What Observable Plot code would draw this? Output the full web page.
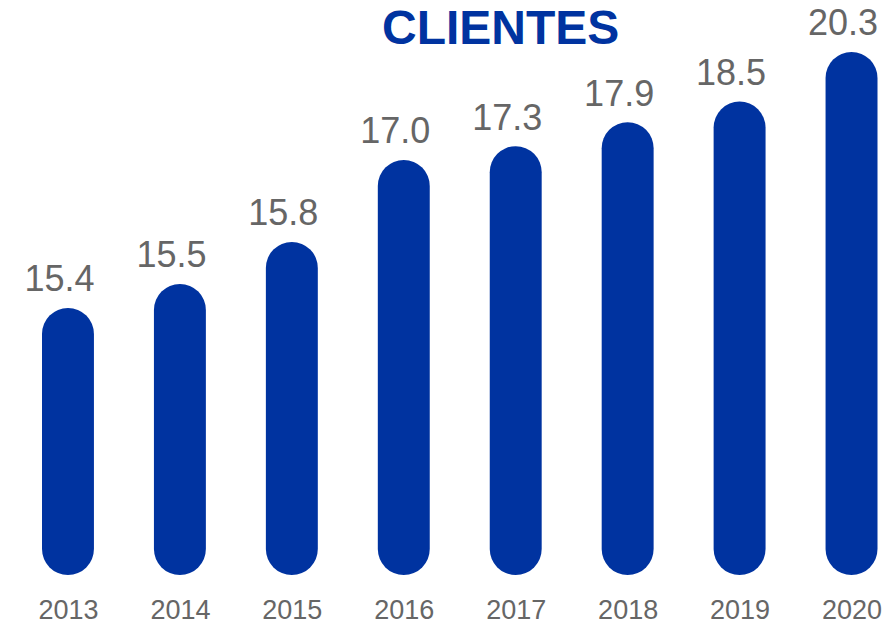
<!DOCTYPE html>
<html>
<head>
<meta charset="utf-8">
<script src="https://cdn.jsdelivr.net/npm/d3@7"></script>
<script src="https://cdn.jsdelivr.net/npm/@observablehq/plot@0.6"></script>
<style>
  html, body { margin: 0; padding: 0; background: #fff; }
  #wrap { position: relative; width: 887px; height: 626px; font-family: "Liberation Sans", Arial, sans-serif; }
  #title { position: absolute; left: 382px; top: 4px; font-size: 48px; line-height: 47px; font-weight: bold; color: #0033A0; white-space: nowrap; }
</style>
</head>
<body>
<div id="wrap">
  <div id="chart"></div>
  <div id="title">CLIENTES</div>
</div>
<script>
// Data
const years = ["2013", "2014", "2015", "2016", "2017", "2018", "2019", "2020"];
const clientes = [15.4, 15.5, 15.8, 17.0, 17.3, 17.9, 18.5, 20.3];

// The original uses a stylised (non-linear) bar scale; approximate it with an offset power scale
const yOffset = 15.3;     // reference value for the power scale
const yFloor = 14.513;    // value at the base of the bars
const yCeil = 22.78;      // value at the top of the frame
const barColor = "#0033A0";
const textColor = "#666666";

const data = years.map((year, i) => ({ year, value: clientes[i] }));

const chart = Plot.plot({
  width: 887,
  height: 626,
  marginTop: 0,
  marginRight: 9.5,
  marginBottom: 51,
  marginLeft: 42,
  style: { fontFamily: "Liberation Sans, Arial, sans-serif", background: "#fff" },
  x: { type: "band", domain: years, paddingInner: 0.536, paddingOuter: 0, round: false, axis: null },
  y: { type: "pow", exponent: 0.35, domain: [yFloor - yOffset, yCeil - yOffset], axis: null },
  marks: [
    Plot.barY(data, {
      x: "year",
      y1: yFloor - yOffset,
      y2: d => d.value - yOffset,
      fill: barColor,
      rx: 26
    }),
    Plot.text(data, {
      x: "year",
      y: d => d.value - yOffset,
      text: d => d.value.toFixed(1),
      dy: -17,
      dx: -9,
      lineAnchor: "bottom",
      fontSize: 36,
      fill: textColor
    }),
    Plot.text(data, {
      x: "year",
      text: "year",
      frameAnchor: "bottom",
      lineAnchor: "top",
      dy: 24,
      fontSize: 27,
      fill: textColor
    })
  ]
});
document.getElementById("chart").appendChild(chart);
</script>
</body>
</html>
